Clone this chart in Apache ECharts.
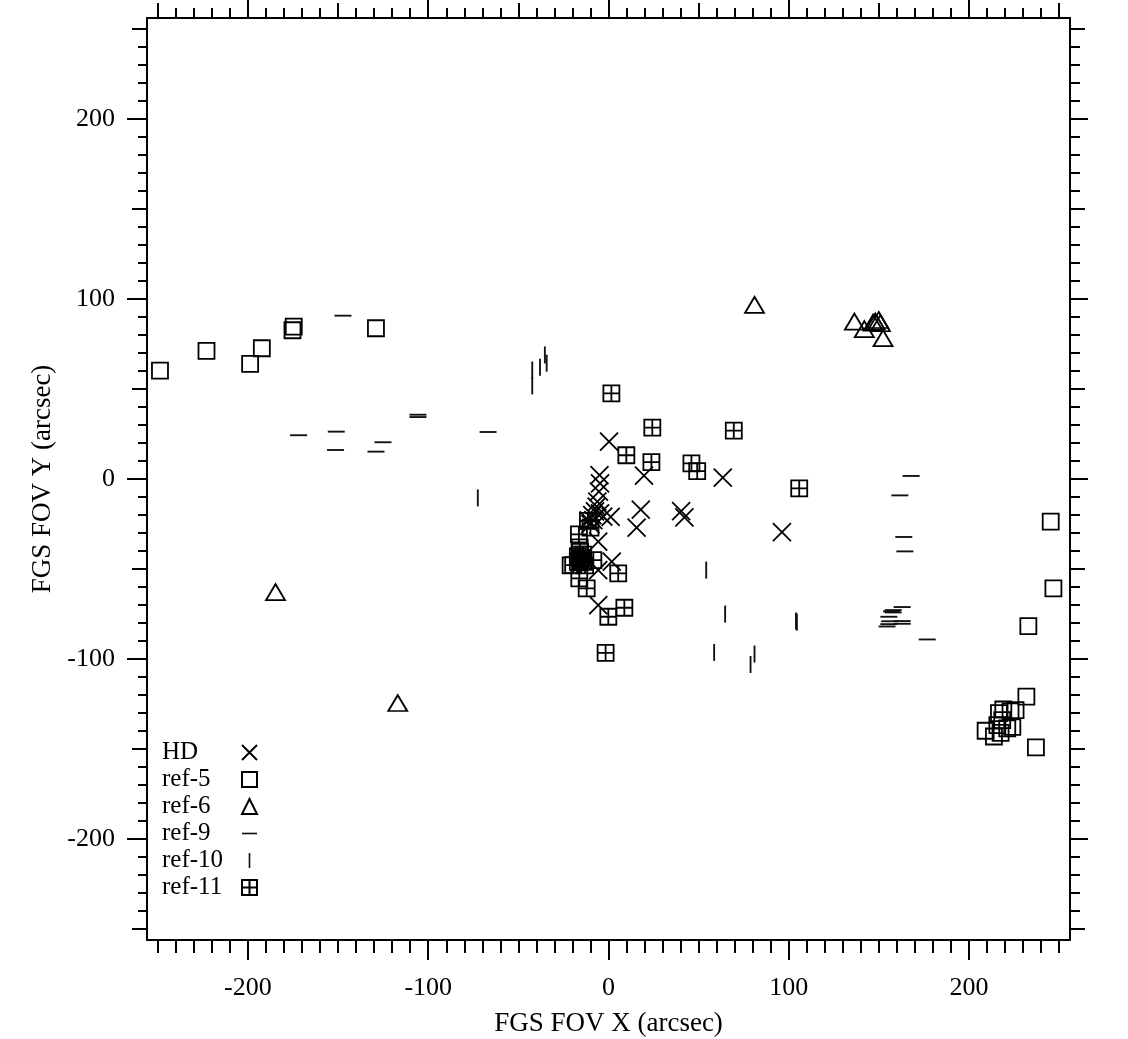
<!DOCTYPE html>
<html>
<head>
<meta charset="utf-8">
<script src="https://cdn.jsdelivr.net/npm/echarts@6/dist/echarts.min.js"></script>
<style>
html,body{margin:0;padding:0;background:#fff;}
#chart{width:1128px;height:1039px;}
</style>
</head>
<body>
<div id="chart"></div>
<script>
// ---- data (arcsec) ----
const hd = [[0.3,20.7],[-5,2.2],[-4.7,-2.4],[-5.3,-7],[-6.2,-12.6],[-6.6,-15.4],[-4.7,-19.1],[-8.4,-22.8],[-2.9,-20.9],[1.2,-21],[-7.5,-18],[19.7,1.9],[63.4,0.8],[17.9,-17],[40.3,-17.8],[42.1,-21.3],[15.6,-27],[96.2,-29.5],[-5.7,-34.8],[1.8,-45.9],[-5.7,-50.6],[-5.7,-70],[-10,-25],[-9,-20],[-11,-23]];
const ref5 = [[-248.8,60.2],[-223,71.1],[-192.3,72.6],[-198.8,63.9],[-174.6,84.6],[-175.3,82.6],[-129,83.7],[245.3,-23.7],[246.8,-60.7],[232.9,-81.7],[231.8,-120.9],[237.1,-149],[219,-128],[216.6,-130],[223,-129],[224,-137.6],[209.2,-139.8],[213.8,-143],[217.5,-141],[221.2,-138.5],[218.4,-133.9],[215.7,-136.7],[225.8,-128.3],[-21,-48],[-16,-38]];
const ref6 = [[-184.7,-62.8],[-116.9,-124.4],[81,96.7],[136.4,87.4],[141.9,83.2],[146.8,86.8],[149.9,88.3],[150.8,86.5],[152.3,78.2],[148,87.4]];
const ref9 = [[-147.3,90.7],[-105.7,35.7],[-105.7,34.4],[-171.9,24.3],[-151,26.3],[-151.4,16.1],[-125.1,20.4],[-129,15.2],[-66.8,26.1],[167.9,1.7],[161.6,-9.1],[163.8,-32.2],[164.4,-40.2],[176.8,-89.1],[162.9,-71.1],[157.9,-72.8],[157.9,-74.1],[155.5,-76.5],[162.9,-78.9],[162.9,-80.4],[155.5,-80.6],[154.5,-81.9],[157,-73.5],[156,-79]];
const ref10 = [[-42.3,60.5],[-42.3,51.7],[-38,62],[-35.3,68.9],[-34.3,64.3],[-72.5,-10.5],[54.2,-50.6],[64.7,-75],[104,-78.9],[104.5,-79.5],[58.6,-96.3],[81,-97.2],[78.8,-103]];
const ref11 = [[1.6,47.6],[24.3,28.5],[69.5,26.9],[9.9,13.2],[23.8,9.4],[46,8.7],[49.2,4.4],[105.8,-5.2],[-11.4,-23.3],[-16.4,-30.7],[-15.8,-40.4],[-15.8,-45],[-8.4,-45],[-19.6,-47.8],[-16.2,-55.2],[-12.1,-60.7],[5.4,-52.4],[8.8,-71.5],[-0.1,-76.5],[-1.6,-96.5],[-14,-42],[-17,-43],[-13,-48],[-10,-27],[-16,-42],[-15,-44],[-14,-46],[-17,-46]];
const tickLabels = [-200,-100,0,100,200];
const axisMin = -256, axisMax = 256;

// ---- ticks ----
const majorTicks = tickLabels.slice();
const mediumTicks = [], minorTicks = [];
for (let v = -250; v <= 250; v += 10) {
  if (v % 100 === 0) continue;
  if (v % 50 === 0) mediumTicks.push(v); else minorTicks.push(v);
}
const FONT = "'Liberation Serif','DejaVu Serif',serif";

function mkAxis(kind, pos, vals, len, withLine, withLabel, name) {
  const a = {
    type: 'value', min: axisMin, max: axisMax, position: pos,
    splitLine: {show: false},
    axisLine: {show: withLine, onZero: false, lineStyle: {color: '#000', width: 2}},
    axisTick: {show: true, inside: false, length: len, customValues: vals, lineStyle: {color: '#000', width: 2}},
    axisLabel: {show: withLabel, customValues: tickLabels, fontFamily: FONT, fontSize: 26, color: '#000', margin: kind === 'x' ? 35 : 32},
    silent: true
  };
  if (name) {
    a.name = name; a.nameLocation = 'middle';
    a.nameTextStyle = {fontFamily: FONT, fontSize: 27, color: '#000'};
    a.nameGap = kind === 'x' ? 70 : 89;
  }
  return a;
}

const xAxes = [
  mkAxis('x','bottom',majorTicks,20,true,true,'FGS FOV X (arcsec)'),
  mkAxis('x','bottom',mediumTicks,13,false,false),
  mkAxis('x','bottom',minorTicks,13,false,false),
  mkAxis('x','top',majorTicks,18,true,false),
  mkAxis('x','top',mediumTicks,15,false,false),
  mkAxis('x','top',minorTicks,10,false,false)
];
const yAxes = [
  mkAxis('y','left',majorTicks,20,true,true,'FGS FOV Y (arcsec)'),
  mkAxis('y','left',mediumTicks,15,false,false),
  mkAxis('y','left',minorTicks,9,false,false),
  mkAxis('y','right',majorTicks,18,true,false),
  mkAxis('y','right',mediumTicks,15,false,false),
  mkAxis('y','right',minorTicks,10,false,false)
];

const open = {color: 'rgba(0,0,0,0)', borderColor: '#000', borderWidth: 1.8, opacity: 1};
function sc(name, data, symbol, size, style, keep) {
  return {
    name, type: 'scatter', data, symbol, symbolSize: size, symbolKeepAspect: !!keep,
    itemStyle: style, xAxisIndex: 0, yAxisIndex: 0, silent: true, animation: false,
    emphasis: {disabled: true}
  };
}
const series = [
  sc('HD', hd, 'path://M0,0L10,10M0,10L10,0', 18, open),
  sc('ref-5', ref5, 'rect', 16, open),
  sc('ref-6', ref6, 'triangle', [19,16], open),
  sc('ref-9', ref9, 'path://M0,0H10V1.1H0Z', 17, {color: '#111', opacity: 1}, true),
  sc('ref-10', ref10, 'path://M0,0H1.1V10H0Z', 17, {color: '#111', opacity: 1}, true),
  sc('ref-11', ref11, 'path://M0,0H10V10H0ZM5,0V10M0,5H10', 16, open)
];

const chart = echarts.init(document.getElementById('chart'), null, {renderer: 'canvas'});
chart.setOption({
  backgroundColor: '#fff',
  animation: false,
  grid: {left: 147, right: 58, top: 18, bottom: 99, containLabel: false, outerBoundsMode: 'none'},
  xAxis: xAxes,
  yAxis: yAxes,
  legend: {
    orient: 'vertical', left: 162, top: 740, padding: 0,
    align: 'right', itemWidth: 15, itemHeight: 15, itemGap: 2,
    selectedMode: false,
    formatter: function (n) { return '{t|' + n + '}'; },
    textStyle: {
      fontFamily: FONT, fontSize: 25, color: '#000', lineHeight: 23,
      rich: {t: {width: 75, align: 'left', fontFamily: FONT, fontSize: 25, color: '#000', lineHeight: 23}}
    },
    data: ['HD','ref-5','ref-6','ref-9','ref-10','ref-11']
  },
  series
});
</script>
</body>
</html>
